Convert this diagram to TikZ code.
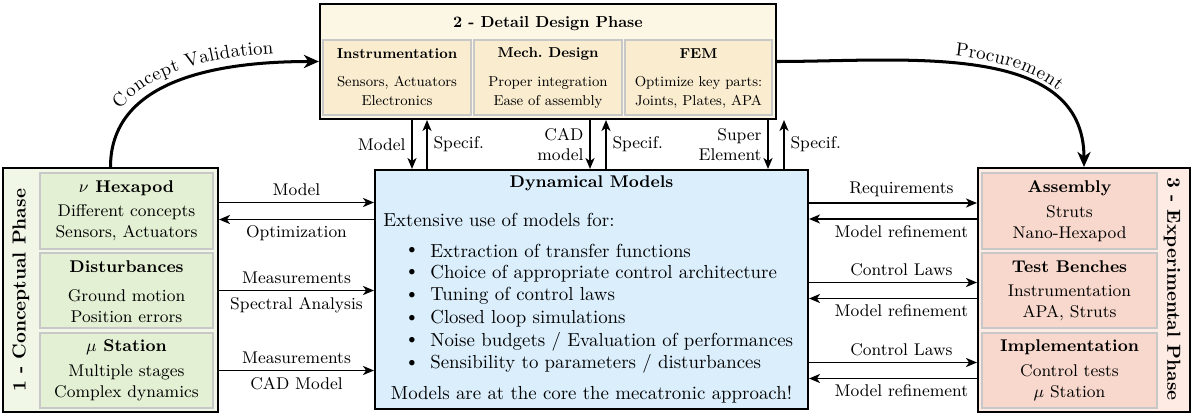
\documentclass[tikz,border=0pt]{standalone}
\usetikzlibrary{arrows.meta,calc,fit,decorations.text}

\definecolor{designOuter}{RGB}{252,246,228}
\definecolor{designInner}{RGB}{249,236,207}
\definecolor{conceptOuter}{RGB}{240,247,231}
\definecolor{conceptInner}{RGB}{227,240,211}
\definecolor{expOuter}{RGB}{253,235,228}
\definecolor{expInner}{RGB}{248,216,204}
\definecolor{modelFill}{RGB}{218,238,252}
\definecolor{subEdge}{RGB}{200,200,200}

% the design block is typeset a little smaller than the rest
\newcommand{\dsmall}[1]{\scalebox{0.845}{#1}}
\newcommand{\dlines}[1]{\scalebox{0.845}{\fontsize{9}{12.5}\selectfont\begin{tabular}{@{}c@{}}#1\end{tabular}}}

\tikzset{
  phasebox/.style={draw=black, line width=1.1pt, inner sep=0pt},
  subbox/.style={draw=subEdge, line width=0.6pt, inner sep=0pt},
  subtitle/.style={font=\small\bfseries, inner sep=0pt},
  subtext/.style={font=\small, align=center, inner sep=0pt},
  plain/.style={inner sep=0pt},
  link/.style={-{Stealth[length=5.8pt,width=4.8pt,inset=1.6pt]}, line width=0.9pt},
  flow/.style={-{Stealth[length=8pt,width=7pt,inset=2.5pt]}, line width=1.6pt},
  lbl/.style={font=\small, inner sep=3pt},
}

\begin{document}
\begin{tikzpicture}[x=0.5302pt, y=-0.5302pt]
\useasboundingbox (0,0) rectangle (1194,414);

% ---------- 2 - Detail Design Phase ----------
\node[phasebox, fill=designOuter, fit={(320,4) (776,119)}] (design) {};
\node[plain] (designT) at (548,24) {\dsmall{\bfseries 2 - Detail Design Phase}};
\node[subbox, fill=designInner, fit={(323,40) (471,115)}] (instr) {};
\node[subbox, fill=designInner, fit={(474,40) (622,115)}] (mech) {};
\node[subbox, fill=designInner, fit={(625,40) (772,115)}] (fem) {};
\node[plain] (instrT) at (instr.center |- 0,54) {\dsmall{\small\bfseries Instrumentation}};
\node[plain] (instrX) at (instr.center |- 0,92) {\dlines{Sensors, Actuators\\Electronics}};
\node[plain] (mechT) at (mech.center |- 0,54) {\dsmall{\small\bfseries Mech.\ Design}};
\node[plain] (mechX) at (mech.center |- 0,92) {\dlines{Proper integration\\Ease of assembly}};
\node[plain] (femT) at (fem.center |- 0,54) {\dsmall{\small\bfseries FEM}};
\node[plain] (femX) at (fem.center |- 0,92) {\dlines{Optimize key parts:\\Joints, Plates, APA}};

% ---------- 1 - Conceptual Phase ----------
\node[phasebox, fill=conceptOuter, fit={(3,168) (218,412)}] (concept) {};
\node[font=\bfseries, rotate=90, inner sep=0pt] (conceptT) at (21,290.5) {1 - Conceptual Phase};
\node[subbox, fill=conceptInner, fit={(40,173) (213,249)}] (hexa) {};
\node[subbox, fill=conceptInner, fit={(40,253) (213,328)}] (dist) {};
\node[subbox, fill=conceptInner, fit={(40,333) (213,408)}] (stat) {};
\node[subtitle] (hexaT) at (hexa.center |- 0,188) {$\nu$ Hexapod};
\node[subtext]  (hexaX) at (hexa.center |- 0,223) {Different concepts\\Sensors, Actuators};
\node[subtitle] (distT) at (dist.center |- 0,267) {Disturbances};
\node[subtext]  (distX) at (dist.center |- 0,306) {Ground motion\\Position errors};
\node[subtitle] (statT) at (stat.center |- 0,347) {$\mu$ Station};
\node[subtext]  (statX) at (stat.center |- 0,383) {Multiple stages\\Complex dynamics};

% ---------- 3 - Experimental Phase ----------
\node[phasebox, fill=expOuter, fit={(978,168) (1190,412)}] (exper) {};
\node[font=\bfseries, rotate=-90, inner sep=0pt] (experT) at (1172,289) {3 - Experimental Phase};
\node[subbox, fill=expInner, fit={(982,173) (1157,249)}] (assy) {};
\node[subbox, fill=expInner, fit={(982,253) (1157,328)}] (bench) {};
\node[subbox, fill=expInner, fit={(982,333) (1157,408)}] (impl) {};
\node[subtitle] (assyT) at (assy.center |- 0,188) {Assembly};
\node[subtext]  (assyX) at (assy.center |- 0,223.5) {Struts\\Nano-Hexapod};
\node[subtitle] (benchT) at (bench.center |- 0,267) {Test Benches};
\node[subtext]  (benchX) at (bench.center |- 0,303) {Instrumentation\\APA, Struts};
\node[subtitle] (implT) at (impl.center |- 0,347) {Implementation};
\node[subtext]  (implX) at (impl.center |- 0,382.5) {Control tests\\$\mu$ Station};

% ---------- Dynamical Models ----------
\node[phasebox, fill=modelFill, fit={(375,170) (808,409)}] (dyn) {};
\node[font=\small\bfseries, inner sep=0pt] (dynT) at (dyn.center |- 0,183) {Dynamical Models};
\node[anchor=west, inner sep=0pt] (dynIntro) at (383,220) {Extensive use of models for:};
\foreach \txt [count=\i] in {Extraction of transfer functions,
    Choice of appropriate control architecture,
    Tuning of control laws,
    Closed loop simulations,
    Noise budgets / Evaluation of performances,
    Sensibility to parameters / disturbances} {
  \pgfmathsetmacro{\yy}{250.7+22.65*(\i-1)}
  \node[inner sep=0pt] (dot\i) at (412,\yy) {\textbullet};
  \node[anchor=west, inner sep=0pt] (item\i) at (430,\yy) {\txt};
}
\node[inner sep=0pt] (dynEnd) at (dyn.center |- 0,395) {Models are at the core the mecatronic approach!};

% ---------- conceptual <-> models ----------
\draw[link] ($(concept.east |- hexa.center)+(0,-8.5)$) -- node[lbl, above] {Model}
            ($(dyn.west |- hexa.center)+(0,-8.5)$);
\draw[link] ($(dyn.west |- hexa.center)+(0,8.5)$) -- node[lbl, below] {Optimization}
            ($(concept.east |- hexa.center)+(0,8.5)$);
\draw[link] (concept.east |- dist.center) -- node[lbl, above] {Measurements}
            node[lbl, below] {Spectral Analysis} (dyn.west |- dist.center);
\draw[link] (concept.east |- stat.center) -- node[lbl, above] {Measurements}
            node[lbl, below] {CAD Model} (dyn.west |- stat.center);

% ---------- models <-> experimental ----------
\draw[link] ($(dyn.east |- assy.center)+(0,-8)$) -- node[lbl, above, pos=0.55] {Requirements}
            ($(exper.west |- assy.center)+(0,-8)$);
\draw[link] ($(exper.west |- assy.center)+(0,8)$) -- node[lbl, below, pos=0.45] {Model refinement}
            ($(dyn.east |- assy.center)+(0,8)$);
\draw[link] ($(dyn.east |- bench.center)+(0,-8)$) -- node[lbl, above, pos=0.55] {Control Laws}
            ($(exper.west |- bench.center)+(0,-8)$);
\draw[link] ($(exper.west |- bench.center)+(0,8)$) -- node[lbl, below, pos=0.45] {Model refinement}
            ($(dyn.east |- bench.center)+(0,8)$);
\draw[link] ($(dyn.east |- impl.center)+(0,-8)$) -- node[lbl, above, pos=0.55] {Control Laws}
            ($(exper.west |- impl.center)+(0,-8)$);
\draw[link] ($(exper.west |- impl.center)+(0,8)$) -- node[lbl, below, pos=0.45] {Model refinement}
            ($(dyn.east |- impl.center)+(0,8)$);

% ---------- design <-> models ----------
\coordinate (xa) at (412,0);  \coordinate (xb) at (427,0);
\coordinate (xc) at (590,0);  \coordinate (xd) at (606,0);
\coordinate (xe) at (768,0);  \coordinate (xf) at (784,0);
\draw[link] (design.south -| xa) -- node[lbl, left] {Model} (dyn.north -| xa);
\draw[link] (dyn.north -| xb) -- node[lbl, right] {Specif.} (design.south -| xb);
\draw[link] (design.south -| xc) -- node[lbl, left, align=right] {CAD\\model} (dyn.north -| xc);
\draw[link] (dyn.north -| xd) -- node[lbl, right] {Specif.} (design.south -| xd);
\draw[link] (design.south -| xe) -- node[lbl, left, align=right] {Super\\Element} (dyn.north -| xe);
\draw[link] (dyn.north -| xf) -- node[lbl, right] {Specif.} (design.south -| xf);

% ---------- phase transitions ----------
\draw[flow] (concept.north) to[out=90, in=180] (design.west);
\path[decorate, decoration={text along path, text={Concept Validation},
      text align={left indent=29pt}, raise=5pt}]
  (concept.north) to[out=90, in=180] (design.west);
\draw[flow] (design.east) to[out=0, in=90] (exper.north);
\path[decorate, decoration={text along path, text={Procurement},
      text align={left indent=94pt}, raise=4pt}]
  (design.east) to[out=0, in=90] (exper.north);
\end{tikzpicture}
\end{document}
